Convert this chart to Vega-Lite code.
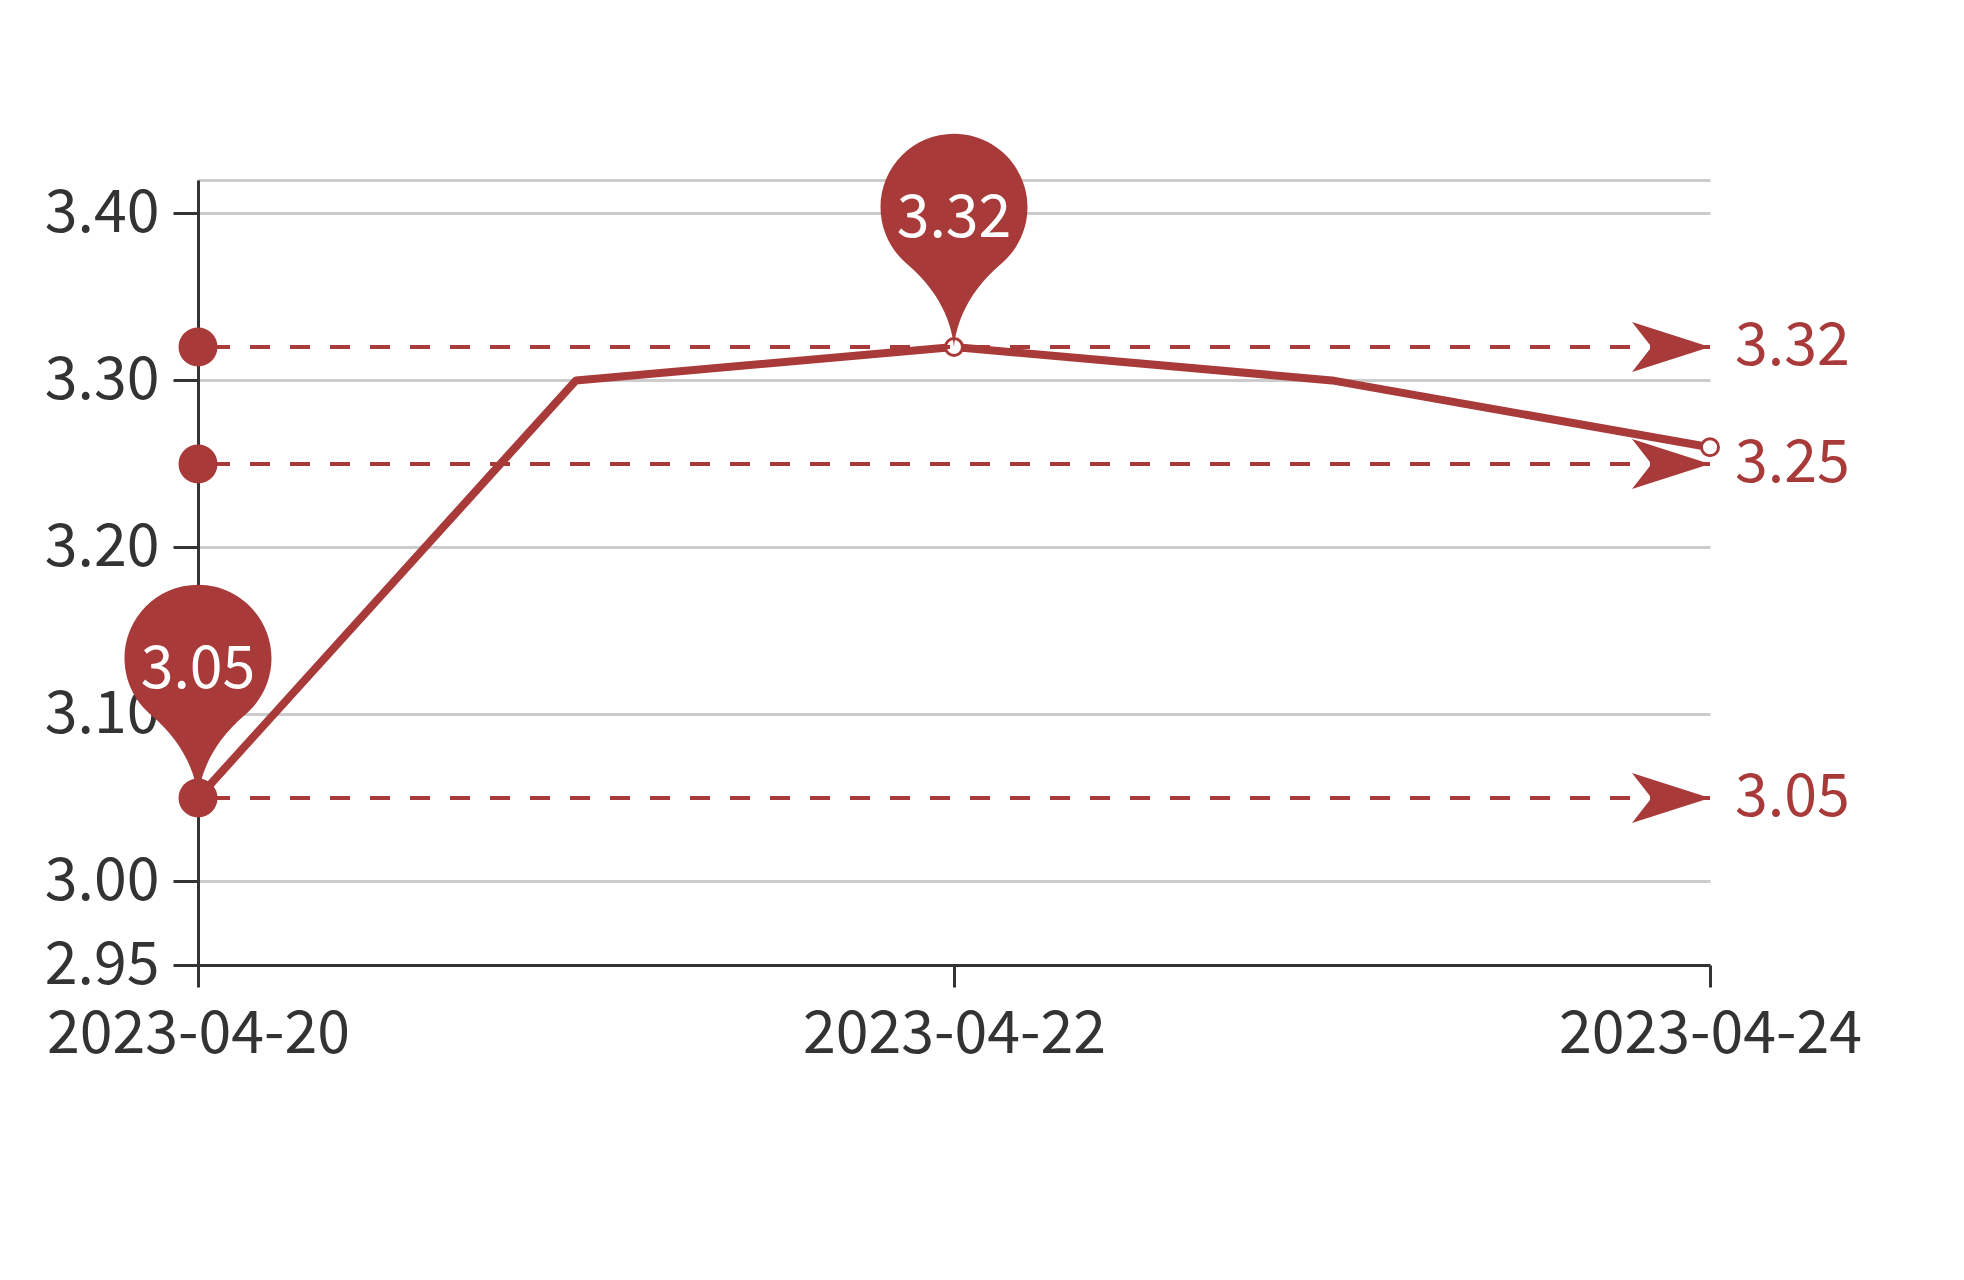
{
  "$schema": "https://vega.github.io/schema/vega-lite/v6.json",
  "width": 1512,
  "height": 785,
  "autosize": {"type": "none"},
  "padding": {"left": 198, "top": 180, "right": 254, "bottom": 315},
  "background": "white",
  "config": {"view": {"stroke": null}, "font": "Noto Sans CJK SC"},
  "datasets": {
    "series": [
      {"date": "2023-04-20", "value": 3.05},
      {"date": "2023-04-21", "value": 3.30},
      {"date": "2023-04-22", "value": 3.32},
      {"date": "2023-04-23", "value": 3.30},
      {"date": "2023-04-24", "value": 3.26}
    ],
    "marks": [
      {"type": "max", "value": 3.32, "start": "2023-04-20", "end": "2023-04-24"},
      {"type": "average", "value": 3.25, "start": "2023-04-20", "end": "2023-04-24"},
      {"type": "min", "value": 3.05, "start": "2023-04-20", "end": "2023-04-24"}
    ],
    "pins": [
      {"type": "max", "date": "2023-04-22", "value": 3.32},
      {"type": "min", "date": "2023-04-20", "value": 3.05}
    ]
  },
  "encoding": {
    "y": {
      "type": "quantitative",
      "title": null,
      "scale": {"domain": [2.95, 3.42], "nice": false, "zero": false},
      "axis": {
        "title": null,
        "values": [2.95, 3.0, 3.1, 3.2, 3.3, 3.4, 3.42],
        "format": ".2f",
        "labelExpr": "datum.value > 3.41 ? '' : datum.label",
        "grid": true,
        "gridColor": {"condition": {"test": "datum.value < 2.96", "value": "transparent"}, "value": "#cccccc"},
        "gridWidth": 3,
        "tickOpacity": {"condition": {"test": "datum.value > 3.41", "value": 0}, "value": 1},
        "tickSize": 25,
        "tickWidth": 3,
        "tickColor": "#333333",
        "domainColor": "#333333",
        "domainWidth": 3,
        "labelFontSize": 59,
        "labelColor": "#333333",
        "labelPadding": 14,
        "labelOverlap": false,
        "labelLimit": 0,
        "labelFont": "Noto Sans CJK SC"
      }
    }
  },
  "layer": [
    {
      "data": {"name": "series"},
      "mark": {"type": "line", "color": "#a93a3a", "strokeWidth": 8, "strokeJoin": "round"},
      "encoding": {
        "x": {
          "field": "date", "type": "temporal", "title": null,
          "scale": {"type": "utc", "nice": false},
          "axis": {
            "title": null,
            "values": [
              {"year": 2023, "month": 4, "date": 20, "utc": true},
              {"year": 2023, "month": 4, "date": 22, "utc": true},
              {"year": 2023, "month": 4, "date": 24, "utc": true}
            ],
            "labelExpr": "utcFormat(datum.value, '%Y-%m-%d')",
            "grid": false,
            "labelFlush": false,
            "labelOverlap": false,
            "labelLimit": 0,
            "tickSize": 22,
            "tickWidth": 3,
            "tickColor": "#333333",
            "domainColor": "#333333",
            "domainWidth": 3,
            "labelFontSize": 59,
            "labelColor": "#333333",
            "labelPadding": 18,
            "labelFont": "Noto Sans CJK SC"
          }
        },
        "y": {"field": "value"}
      }
    },
    {
      "data": {"name": "series"},
      "transform": [{"filter": "utcdate(datum.date) % 2 == 0"}],
      "mark": {"type": "point", "shape": "circle", "filled": false, "fill": "white", "stroke": "#a93a3a", "strokeWidth": 3, "opacity": 1, "size": 289},
      "encoding": {
        "x": {"field": "date", "type": "temporal", "title": null},
        "y": {"field": "value"}
      }
    },
    {
      "data": {"name": "marks"},
      "mark": {"type": "rule", "color": "#a93a3a", "strokeWidth": 4, "strokeDash": [20, 20]},
      "encoding": {
        "y": {"field": "value"}
      }
    },
    {
      "data": {"name": "marks"},
      "mark": {"type": "point", "shape": "circle", "filled": true, "color": "#a93a3a", "opacity": 1, "size": 1521},
      "encoding": {
        "x": {"field": "start", "type": "temporal", "title": null},
        "y": {"field": "value"}
      }
    },
    {
      "data": {"name": "marks"},
      "mark": {
        "type": "point",
        "shape": "M 0 0 L -1.56 -0.5 L -1.17 0 L -1.56 0.5 Z",
        "filled": true, "color": "#a93a3a", "opacity": 1, "size": 10000
      },
      "encoding": {
        "x": {"field": "end", "type": "temporal", "title": null},
        "y": {"field": "value"}
      }
    },
    {
      "data": {"name": "marks"},
      "mark": {"type": "text", "align": "left", "baseline": "middle", "dx": 25, "fontSize": 59, "color": "#a93a3a", "font": "Noto Sans CJK SC"},
      "encoding": {
        "x": {"field": "end", "type": "temporal", "title": null},
        "y": {"field": "value"},
        "text": {"field": "value", "type": "quantitative", "format": ".2f"}
      }
    },
    {
      "data": {"name": "pins"},
      "mark": {
        "type": "point",
        "shape": "M 0 0 C -0.02 -0.2 -0.107 -0.684 -0.643 -1.134 C -0.869 -1.324 -1 -1.604 -1 -1.9 C -1 -2.452 -0.552 -2.9 0 -2.9 C 0.552 -2.9 1 -2.452 1 -1.9 C 1 -1.604 0.869 -1.324 0.643 -1.134 C 0.107 -0.684 0.02 -0.2 0 0 Z",
        "filled": true, "color": "#a93a3a", "opacity": 1, "size": 21609
      },
      "encoding": {
        "x": {"field": "date", "type": "temporal", "title": null},
        "y": {"field": "value"}
      }
    },
    {
      "data": {"name": "pins"},
      "mark": {"type": "text", "align": "center", "baseline": "middle", "dy": -128, "fontSize": 59, "color": "white", "font": "Noto Sans CJK SC"},
      "encoding": {
        "x": {"field": "date", "type": "temporal", "title": null},
        "y": {"field": "value"},
        "text": {"field": "value", "type": "quantitative", "format": ".2f"}
      }
    }
  ]
}
